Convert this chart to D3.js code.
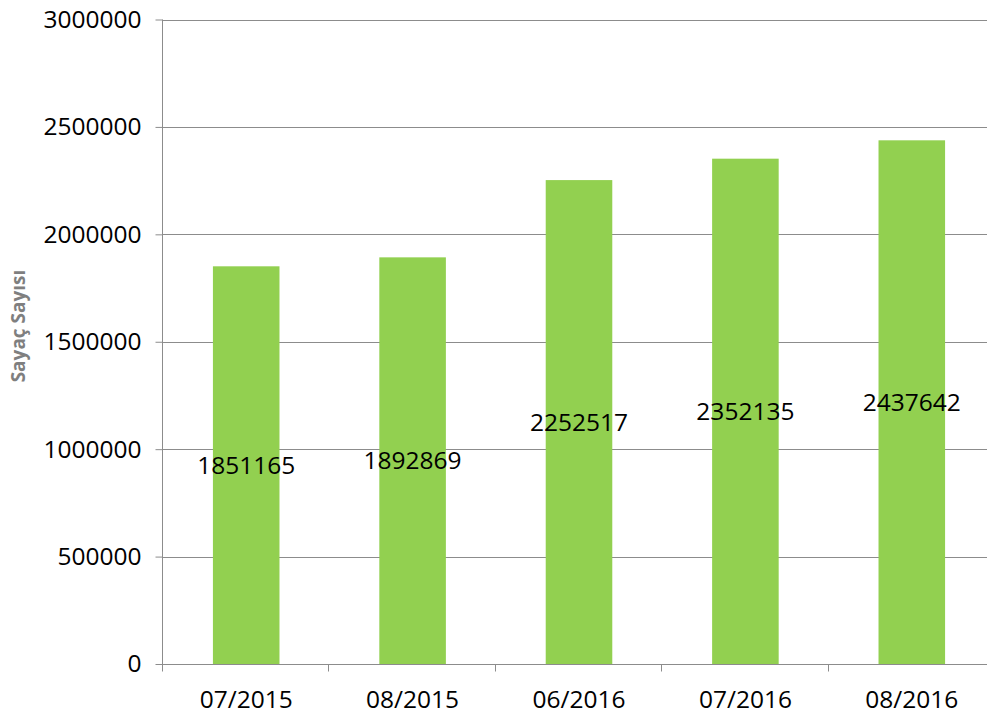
<!DOCTYPE html>
<html>
<head>
<meta charset="utf-8">
<script src="https://cdn.jsdelivr.net/npm/d3@7"></script>
<style>
  body { margin: 0; background: #fff; }
  svg { display: block; }
</style>
</head>
<body>
<div id="chart"></div>
<script>
// chart data
const categories = ['07/2015', '08/2015', '06/2016', '07/2016', '08/2016'];
const values = [1851165, 1892869, 2252517, 2352135, 2437642];
const yTicks = [0, 500000, 1000000, 1500000, 2000000, 2500000, 3000000];
const yTitle = 'Sayaç Sayısı';

const W = 987, H = 718;
const margin = { top: 19.5, left: 163, bottom: 54 };
const plotH = H - margin.top - margin.bottom;
const bandW = 166.4;

const svg = d3.select('#chart')
  .append('svg')
  .attr('width', W)
  .attr('height', H);

const x = d3.scaleBand()
  .domain(categories)
  .range([margin.left, margin.left + bandW * categories.length])
  .paddingInner(0.6)
  .paddingOuter(0.3);

const y = d3.scaleLinear()
  .domain([0, 3000000])
  .range([margin.top + plotH, margin.top]);

const font = '"Open Sans", sans-serif';

// gridlines
svg.append('g')
  .selectAll('line')
  .data(yTicks.slice(1))
  .join('line')
  .attr('x1', margin.left)
  .attr('x2', W)
  .attr('y1', d => Math.round(y(d)) + 0.5)
  .attr('y2', d => Math.round(y(d)) + 0.5)
  .attr('stroke', '#8c8c8c')
  .attr('stroke-width', 1);

// bars
svg.append('g')
  .selectAll('rect')
  .data(values)
  .join('rect')
  .attr('x', (d, i) => x(categories[i]))
  .attr('width', x.bandwidth())
  .attr('y', d => y(d))
  .attr('height', d => y(0) - y(d))
  .attr('fill', '#92d050');

// y axis
const yAxis = svg.append('g')
  .attr('transform', 'translate(' + (margin.left - 0.5) + ',0)')
  .call(d3.axisLeft(y).tickValues(yTicks).tickFormat(d3.format('d')).tickSize(7).tickPadding(14));
yAxis.select('.domain').attr('stroke', '#8c8c8c').attr('d', 'M0,' + y(3000000) + 'V' + y(0));
yAxis.selectAll('.tick line').attr('stroke', '#8c8c8c');
yAxis.selectAll('.tick text')
  .attr('fill', '#000')
  .style('font-family', font)
  .style('font-size', '24.5px');

// x axis
const xAxis = svg.append('g')
  .attr('transform', 'translate(0,' + (Math.round(y(0)) + 0.5) + ')');
xAxis.append('line')
  .attr('x1', margin.left - 7)
  .attr('x2', W)
  .attr('stroke', '#8c8c8c');
xAxis.selectAll('.xtick')
  .data(d3.range(categories.length + 1))
  .join('line')
  .attr('class', 'xtick')
  .attr('x1', i => Math.round(margin.left + i * bandW) - 0.5)
  .attr('x2', i => Math.round(margin.left + i * bandW) - 0.5)
  .attr('y1', 0)
  .attr('y2', 7)
  .attr('stroke', '#8c8c8c');
xAxis.selectAll('.xlabel')
  .data(categories)
  .join('text')
  .attr('class', 'xlabel')
  .attr('x', d => x(d) + x.bandwidth() / 2)
  .attr('y', 43)
  .attr('text-anchor', 'middle')
  .style('font-family', font)
  .style('font-size', '24.5px')
  .text(d => d);

// value labels
svg.append('g')
  .selectAll('text')
  .data(values)
  .join('text')
  .attr('x', (d, i) => x(categories[i]) + x.bandwidth() / 2)
  .attr('y', d => (y(d) + y(0)) / 2)
  .attr('dy', '0.35em')
  .attr('text-anchor', 'middle')
  .style('font-family', font)
  .style('font-size', '24.5px')
  .text(d => d);

// y title
svg.append('text')
  .attr('transform', 'translate(25,326) rotate(-90)')
  .attr('text-anchor', 'middle')
  .attr('fill', '#7f7f7f')
  .style('font-family', font)
  .style('font-weight', 'bold')
  .style('font-size', '19px')
  .text(yTitle);
</script>
</body>
</html>
